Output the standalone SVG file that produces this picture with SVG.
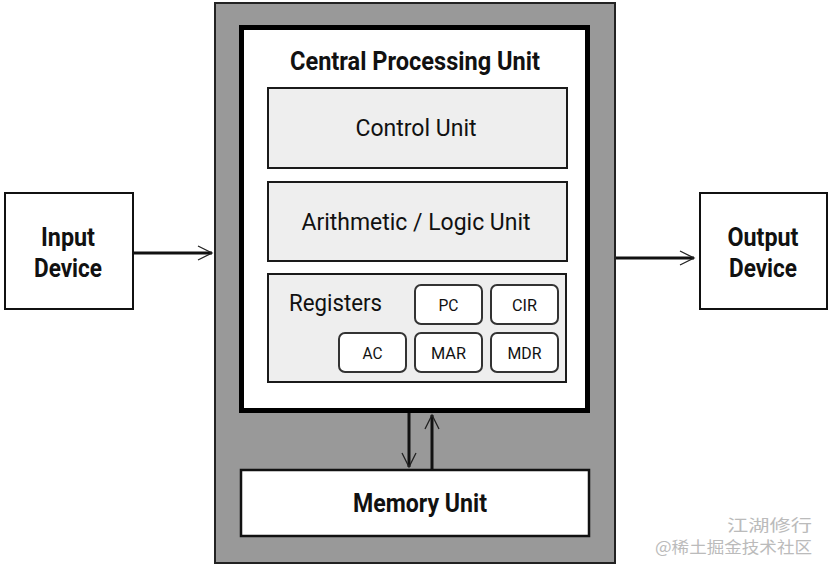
<svg xmlns="http://www.w3.org/2000/svg" width="829" height="567" viewBox="0 0 829 567">
<style>
.t{font-family:Roboto,"Liberation Sans",sans-serif;fill:#111}
.b{font-weight:bold}
.unit{fill:#eeeeee;stroke:#1a1a1a;stroke-width:2}
.reg{fill:#fff;stroke:#333;stroke-width:2}
.dev{fill:#fff;stroke:#111;stroke-width:2}
.shaft{stroke:#111;stroke-width:3;fill:none}
.head{stroke:#222;stroke-width:1.3;fill:none}
.wm{font-family:"Noto Sans CJK SC","Noto Sans",sans-serif;fill:#bbbbbb}
</style>
<rect width="829" height="567" fill="#fff"/>
<g id="system">
<rect x="215" y="3" width="400" height="560" fill="#999" stroke="#222" stroke-width="2"/>
</g>
<g id="cpu">
<rect x="241.5" y="27.5" width="346" height="383" fill="#fff" stroke="#000" stroke-width="5"/>
<text class="t b" x="415" y="70" font-size="26" text-anchor="middle" textLength="250" lengthAdjust="spacingAndGlyphs">Central Processing Unit</text>
</g>
<g id="control-unit">
<rect class="unit" x="268" y="88" width="299" height="80"/>
<text class="t" x="416" y="136" font-size="23" text-anchor="middle" textLength="121" lengthAdjust="spacingAndGlyphs">Control Unit</text>
</g>
<g id="alu">
<rect class="unit" x="268" y="182" width="299" height="79"/>
<text class="t" x="416" y="230" font-size="23" text-anchor="middle" textLength="229" lengthAdjust="spacingAndGlyphs">Arithmetic / Logic Unit</text>
</g>
<g id="registers">
<rect class="unit" x="268" y="274" width="298" height="108"/>
<text class="t" x="289" y="311" font-size="23" textLength="93" lengthAdjust="spacingAndGlyphs">Registers</text>
</g>
<g id="pc">
<rect class="reg" x="415" y="285" width="67" height="39" rx="6"/>
<text class="t" x="448.5" y="311" font-size="17" text-anchor="middle" textLength="20" lengthAdjust="spacingAndGlyphs">PC</text>
</g>
<g id="cir">
<rect class="reg" x="491" y="285" width="67" height="39" rx="6"/>
<text class="t" x="524.5" y="311" font-size="17" text-anchor="middle" textLength="25" lengthAdjust="spacingAndGlyphs">CIR</text>
</g>
<g id="ac">
<rect class="reg" x="339" y="333" width="67" height="39" rx="6"/>
<text class="t" x="372.5" y="359" font-size="17" text-anchor="middle" textLength="20" lengthAdjust="spacingAndGlyphs">AC</text>
</g>
<g id="mar">
<rect class="reg" x="415" y="333" width="67" height="39" rx="6"/>
<text class="t" x="448.5" y="359" font-size="17" text-anchor="middle" textLength="35" lengthAdjust="spacingAndGlyphs">MAR</text>
</g>
<g id="mdr">
<rect class="reg" x="491" y="333" width="67" height="39" rx="6"/>
<text class="t" x="524.5" y="359" font-size="17" text-anchor="middle" textLength="34" lengthAdjust="spacingAndGlyphs">MDR</text>
</g>
<g id="memory-unit">
<rect x="241" y="470" width="348" height="66" fill="#fff" stroke="#111" stroke-width="2.5"/>
<text class="t b" x="420" y="512" font-size="25" text-anchor="middle" textLength="134" lengthAdjust="spacingAndGlyphs">Memory Unit</text>
</g>
<g id="input-device">
<rect class="dev" x="5" y="193" width="128" height="116"/>
<text class="t b" x="68" y="246" font-size="25" text-anchor="middle" textLength="54" lengthAdjust="spacingAndGlyphs">Input</text>
<text class="t b" x="68" y="277" font-size="25" text-anchor="middle" textLength="68" lengthAdjust="spacingAndGlyphs">Device</text>
</g>
<g id="output-device">
<rect class="dev" x="700" y="193" width="127" height="116"/>
<text class="t b" x="763" y="246" font-size="25" text-anchor="middle" textLength="71" lengthAdjust="spacingAndGlyphs">Output</text>
<text class="t b" x="763" y="277" font-size="25" text-anchor="middle" textLength="68" lengthAdjust="spacingAndGlyphs">Device</text>
</g>
<g id="connectors">
<line class="shaft" x1="133" y1="253" x2="212" y2="253"/>
<path class="head" d="M198,246 L212,253 L198,260"/>
<line class="shaft" x1="616" y1="258" x2="694" y2="258"/>
<path class="head" d="M680,251 L694,258 L680,265"/>
<line class="shaft" x1="409" y1="413" x2="409" y2="467"/>
<path class="head" d="M402,453 L409,467 L416,453"/>
<line class="shaft" x1="432" y1="470" x2="432" y2="415"/>
<path class="head" d="M425,429 L432,415 L439,429"/>
</g>
<g id="watermark">
<text class="wm" x="727" y="531" font-size="16" textLength="85" lengthAdjust="spacingAndGlyphs">江湖修行</text>
<text class="wm" x="655" y="553" font-size="16" textLength="157" lengthAdjust="spacingAndGlyphs">@稀土掘金技术社区</text>
</g>
</svg>
